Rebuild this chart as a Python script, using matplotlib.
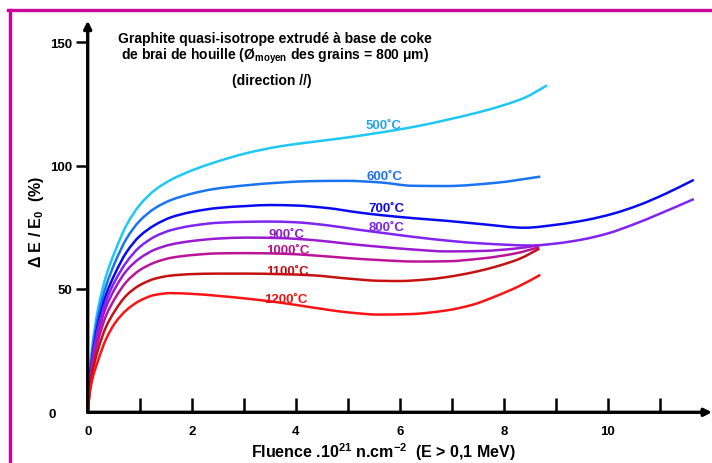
import matplotlib
matplotlib.use("Agg")
import matplotlib.pyplot as plt
import numpy as np
from matplotlib.lines import Line2D
from matplotlib.path import Path
from matplotlib.patches import PathPatch

plt.rcParams['font.family'] = ['Liberation Sans', 'DejaVu Sans']
plt.rcParams['font.weight'] = 'bold'
plt.rcParams['mathtext.fontset'] = 'custom'
plt.rcParams['mathtext.rm'] = 'Liberation Sans:bold'
plt.rcParams['mathtext.bf'] = 'Liberation Sans:bold'
plt.rcParams['mathtext.it'] = 'Liberation Sans:bold'

# courbes : fluence (1e21 n/cm2) -> dE/E0 (%)
x_500 = [0, 0.03, 0.08, 0.2, 0.35, 0.52, 0.75, 1.0, 1.3, 1.6, 2.0, 2.4, 3.05, 3.7, 4.33,
         5.0, 5.6, 6.3, 6.9, 7.5, 8.0, 8.4, 8.83]
y_500 = [0, 12, 25, 42, 55, 65, 76, 84, 90.2, 94.2, 98, 101, 105, 107.8, 109.6,
         111.4, 113.3, 115.8, 118.5, 121.5, 124.5, 127.5, 132.5]

x_600 = [0, 0.03, 0.08, 0.2, 0.35, 0.52, 0.75, 1.0, 1.3, 1.6, 2.0, 2.4, 3.05, 3.7, 4.33,
         4.97, 5.6, 6.25, 6.9, 7.84, 8.7]
y_600 = [0, 11, 23, 39, 51, 60.5, 70.5, 77.6, 82.8, 86, 88.6, 90.4, 92.0, 93.1, 93.7,
         93.8, 93.2, 91.8, 91.7, 93.0, 95.5]

x_700 = [0, 0.03, 0.08, 0.2, 0.35, 0.52, 0.75, 1.0, 1.3, 1.6, 2.0, 2.5, 3.05, 3.5, 4.0,
         4.6, 5.2, 5.6, 6.3, 6.9, 7.6, 8.4, 9.0, 9.6, 10.1, 10.6, 11.1, 11.65]
y_700 = [0, 10, 21, 36, 47.5, 56, 65, 71.4, 76, 79, 81.2, 82.8, 83.6, 84.0, 83.8,
         82.8, 81.0, 80.0, 78.6, 77.6, 76.2, 74.8, 76.0, 78.0, 80.5, 84.0, 88.5, 94.2]

x_800 = [0, 0.03, 0.08, 0.2, 0.35, 0.52, 0.75, 1.0, 1.3, 1.6, 2.0, 2.5, 3.05, 3.5, 4.0,
         4.6, 5.2, 5.6, 6.3, 6.9, 7.6, 8.55, 9.0, 9.5, 10.0, 10.5, 11.0, 11.65]
y_800 = [0, 9.5, 20, 34, 45, 53, 61, 67, 71.3, 73.8, 75.6, 76.8, 77.2, 77.3, 77.0,
         75.8, 74.0, 72.9, 71, 69.6, 68.4, 67.6, 68.4, 70.0, 72.5, 76.2, 80.5, 86.4]

x_900 = [0, 0.03, 0.08, 0.2, 0.35, 0.52, 0.75, 1.0, 1.3, 1.6, 2.0, 2.5, 3.05, 3.7, 4.33,
         5.0, 5.6, 6.3, 6.9, 7.6, 8.2, 8.65]
y_900 = [0, 9, 19, 32, 42.5, 50, 57.5, 62.4, 66, 68, 69.4, 70.4, 70.8, 70.6, 69.8,
         68.3, 67.1, 65.9, 65.2, 65.4, 66.3, 67.6]

x_1000 = [0, 0.03, 0.08, 0.2, 0.35, 0.52, 0.75, 1.0, 1.3, 1.6, 2.0, 2.5, 3.05, 3.7, 4.33,
          5.0, 5.6, 6.3, 6.9, 7.6, 8.2, 8.68]
y_1000 = [0, 8, 17, 29, 39, 46, 53, 57.6, 60.8, 62.6, 63.7, 64.4, 64.5, 64.3, 63.6,
          62.5, 61.7, 61.1, 61.2, 62.4, 64.3, 66.9]

x_1100 = [0, 0.03, 0.08, 0.2, 0.35, 0.52, 0.75, 1.0, 1.3, 1.6, 2.0, 2.5, 3.05, 3.7, 4.33,
          5.0, 5.6, 6.0, 6.5, 6.9, 7.4, 7.84, 8.3, 8.68]
y_1100 = [0, 7, 15, 25.5, 34.5, 41, 47.5, 51.5, 54.2, 55.4, 56.0, 56.2, 56.2, 56.0, 55.5,
          54.2, 53.3, 53.2, 53.8, 54.8, 56.7, 59.0, 62.2, 66.3]

x_1200 = [0, 0.03, 0.08, 0.2, 0.35, 0.52, 0.75, 1.0, 1.3, 1.6, 2.0, 2.5, 3.0, 3.5, 4.1,
          4.6, 5.0, 5.6, 6.2, 6.9, 7.4, 7.84, 8.3, 8.7]
y_1200 = [0, 6, 12.5, 21, 29.5, 36, 41.5, 45.2, 47.6, 48.3, 48.0, 47.2, 46.2, 45.0, 43.2,
          41.6, 40.5, 39.6, 39.8, 41.3, 43.6, 47.0, 51.2, 55.7]

labels = ['500˚C', '600˚C', '700˚C', '800˚C', '900˚C', '1000˚C', '1100˚C', '1200˚C']
xs = [x_500, x_600, x_700, x_800, x_900, x_1000, x_1100, x_1200]
ys = [y_500, y_600, y_700, y_800, y_900, y_1000, y_1100, y_1200]
line_colors = ['#1ec8f5', '#1a74f2', '#0a0af0', '#8024f0', '#9a1ad2', '#bb1499', '#c41010', '#f81414']
text_colors = ['#2aa2ee', '#1a74f2', '#0a0ae0', '#7a24ea', '#901ccc', '#b4148e', '#c41010', '#ee1212']
label_pos = [(5.68, 116.5), (5.70, 95.8), (5.74, 82.8), (5.74, 75.1),
             (3.83, 72.3), (3.85, 65.8), (3.83, 57.3), (3.81, 45.9)]


def smooth_path(x, y):
    # courbe de Bezier passant par les points lus (tangentes type Fritsch-Carlson)
    x = np.asarray(x, float)
    y = np.asarray(y, float)
    h = np.diff(x)
    d = np.diff(y) / h
    m = np.zeros_like(x)
    m[0], m[-1] = d[0], d[-1]
    for i in range(1, len(x) - 1):
        if d[i - 1] * d[i] <= 0:
            m[i] = 0
        else:
            w1 = 2 * h[i] + h[i - 1]
            w2 = h[i] + 2 * h[i - 1]
            m[i] = (w1 + w2) / (w1 / d[i - 1] + w2 / d[i])
    verts = [(x[0], y[0])]
    codes = [Path.MOVETO]
    for i in range(len(x) - 1):
        verts += [(x[i] + h[i] / 3, y[i] + m[i] * h[i] / 3),
                  (x[i + 1] - h[i] / 3, y[i + 1] - m[i + 1] * h[i] / 3),
                  (x[i + 1], y[i + 1])]
        codes += [Path.CURVE4] * 3
    return Path(verts, codes)


W, H = 712, 464
fig = plt.figure(figsize=(W / 100, H / 100), dpi=100)
ax = fig.add_axes([87.7 / W, 1 - 413.3 / H, (712 - 87.7) / W, (413.3 - 21.7) / H])
ax.set_xlim(0, 12.0)
ax.set_ylim(0, 158.7)

for x, y, c in zip(xs, ys, line_colors):
    ax.add_patch(PathPatch(smooth_path(x, y), fill=False, edgecolor=c, lw=1.8,
                           capstyle='butt', joinstyle='round'))

for lab, (lx, ly), c in zip(labels, label_pos, text_colors):
    ax.text(lx, ly, lab, color=c, fontsize=9.5, fontweight='bold', ha='center', va='center')

# axes avec fleches
for s in ax.spines.values():
    s.set_visible(False)
ax.annotate('', xy=(1, 0), xytext=(0, 0), xycoords='axes fraction',
            arrowprops=dict(arrowstyle='-|>', lw=2.4, color='k', mutation_scale=11,
                            shrinkA=0, shrinkB=0))
ax.annotate('', xy=(0, 1), xytext=(0, 0), xycoords='axes fraction',
            arrowprops=dict(arrowstyle='-|>', lw=2.4, color='k', mutation_scale=11,
                            shrinkA=0, shrinkB=0))

ax.set_xticks(range(0, 12))
ax.set_xticklabels(['0', '', '2', '', '4', '', '6', '', '8', '', '10', ''])
ax.set_yticks([0, 50, 100, 150])
ax.tick_params(axis='x', direction='in', length=10, width=1.8, pad=9, labelsize=9.5)
ax.tick_params(axis='y', direction='out', length=9, width=1.8, pad=2, labelsize=9.5)
ax.xaxis.get_major_ticks()[0].tick1line.set_visible(False)
ax.yaxis.get_major_ticks()[0].tick1line.set_visible(False)
ax.yaxis.get_major_ticks()[0].set_pad(14)

fig.text(383 / W, 1 - 452 / H, r'Fluence .10$^{21}$ n.cm$^{-2}$  (E > 0,1 MeV)',
         fontsize=11.5, fontweight='bold', ha='center', va='center')
fig.text(36 / W, 1 - 222 / H, r'$\Delta$ E / E$_{0}$  (%)', rotation=90,
         fontsize=11.5, fontweight='bold', ha='center', va='center')

fig.text(274.5 / W, 1 - 39.5 / H, 'Graphite quasi-isotrope extrudé à base de coke',
         fontsize=10, fontweight='bold', ha='center', va='center')
fig.text(274.5 / W, 1 - 56 / H, r'de brai de houille (Ø$_{\mathrm{moyen}}$ des grains = 800 μm)',
         fontsize=10, fontweight='bold', ha='center', va='center')
fig.text(272 / W, 1 - 80.7 / H, '(direction //)',
         fontsize=10, fontweight='bold', ha='center', va='center')

# cadre magenta
fig.add_artist(Line2D([9.5 / W, 9.5 / W], [0, 1 - 11 / H], color='#cc0099', lw=2.4))
fig.add_artist(Line2D([8.3 / W, 1], [1 - 11 / H, 1 - 11 / H], color='#cc0099', lw=2.4))

fig.savefig('out.png', dpi=100)
